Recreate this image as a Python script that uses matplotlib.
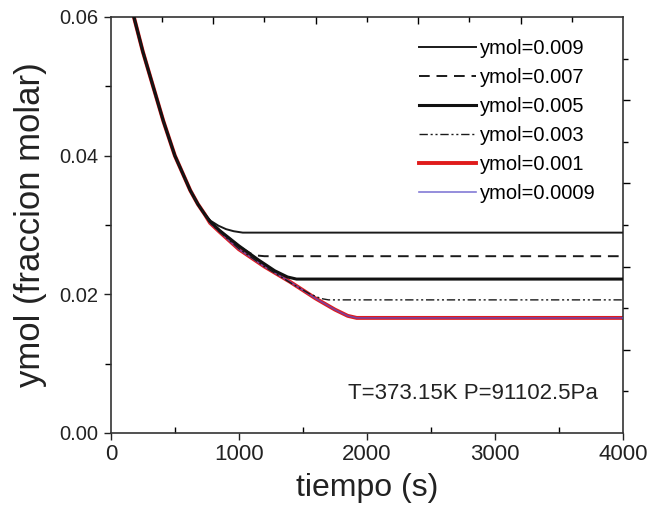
import matplotlib
matplotlib.use('Agg')
import matplotlib.pyplot as plt

plt.rcParams['font.family'] = ['Liberation Sans', 'DejaVu Sans']

# shared descending part (tiempo in s, ymol)
t_start = [140, 180, 250, 330, 410, 500, 560, 620, 680, 735]
y_start = [0.0635, 0.060, 0.055, 0.050, 0.045, 0.040, 0.0375, 0.0350, 0.0330, 0.0315]

t_009 = t_start + [780, 840, 900, 960, 1030, 4000]
y_009 = y_start + [0.0306, 0.0299, 0.0294, 0.0291, 0.0289, 0.0289]

t_007 = t_start + [775, 850, 950, 1030, 1090, 1140, 1200, 4000]
y_007 = y_start + [0.0304, 0.0292, 0.0277, 0.0266, 0.0259, 0.0256, 0.0255, 0.0255]

t_005 = t_start + [775, 850, 1000, 1150, 1280, 1380, 1450, 4000]
y_005 = y_start + [0.0305, 0.0292, 0.0270, 0.0250, 0.0234, 0.0225, 0.0222, 0.0222]

t_003 = t_start + [775, 850, 1000, 1200, 1400, 1550, 1640, 1700, 4000]
y_003 = y_start + [0.0303, 0.0290, 0.0266, 0.0240, 0.0217, 0.0201, 0.0194, 0.0192, 0.0192]

t_001 = t_start + [775, 850, 1000, 1200, 1400, 1600, 1750, 1850, 1920, 4000]
y_001 = y_start + [0.0303, 0.0290, 0.0265, 0.0240, 0.0218, 0.0194, 0.0178, 0.0169, 0.0166, 0.0166]

t_0009 = t_001
y_0009 = y_001

labels = ['ymol=0.009', 'ymol=0.007', 'ymol=0.005', 'ymol=0.003', 'ymol=0.001', 'ymol=0.0009']

fig = plt.figure(figsize=(6.52, 5.12), dpi=100)
ax = fig.add_axes([0.170, 0.1543, 0.7855, 0.8125])

l1, = ax.plot(t_009, y_009, color='#1a1a1a', lw=1.4, zorder=4)
l2, = ax.plot(t_007, y_007, color='#1a1a1a', lw=1.4, ls=(0, (5.5, 3.5)), zorder=4)
l3, = ax.plot(t_005, y_005, color='#111111', lw=2.2, zorder=4)
l4, = ax.plot(t_003, y_003, color='#1a1a1a', lw=1.0, ls=(0, (6, 2, 1.5, 2, 1.5, 2)), zorder=4)
l5, = ax.plot(t_001, y_001, color='#e01b1b', lw=2.8, zorder=2)
l6, = ax.plot(t_0009, y_0009, color='#5a4fc8', lw=1.2, alpha=0.75, zorder=3)

ax.set_xlim(0, 4000)
ax.set_ylim(0, 0.06)
ax.set_xticks([0, 1000, 2000, 3000, 4000])
ax.set_xticks([500, 1500, 2500, 3500], minor=True)
ax.set_yticks([0, 0.02, 0.04, 0.06])
ax.set_yticklabels(['0.00', '0.02', '0.04', '0.06'])
ax.set_yticks([0.01, 0.03, 0.05], minor=True)

ax.tick_params(axis='x', which='major', direction='out', length=5, width=1, labelsize=16, pad=3, colors='#222222')
ax.tick_params(axis='x', which='minor', direction='in', length=4, width=1)
ax.tick_params(axis='y', which='major', direction='out', length=5, width=1, labelsize=14.5, pad=4, colors='#222222')
ax.tick_params(axis='y', which='minor', direction='out', length=4, width=1)

for s in ax.spines.values():
    s.set_linewidth(1.2)
    s.set_color('#333333')

# top and right axes have their own tick spacing
ax_top = ax.twiny()
ax_top.set_xlim(0, 4000)
ax_top.set_xticks([800, 1600, 2400, 3200])
ax_top.set_xticks([400, 1200, 2000, 2800, 3600], minor=True)
ax_top.tick_params(axis='x', which='both', direction='in', labeltop=False, width=1)
ax_top.tick_params(axis='x', which='major', length=5)
ax_top.tick_params(axis='x', which='minor', length=3.5)

ax_right = ax.twinx()
ax_right.set_ylim(0, 0.06)
ax_right.set_yticks([0.012, 0.024, 0.036, 0.048])
ax_right.set_yticks([0.006, 0.018, 0.030, 0.042, 0.054], minor=True)
ax_right.tick_params(axis='y', which='both', direction='out', labelright=False, width=1)
ax_right.tick_params(axis='y', which='major', length=5)
ax_right.tick_params(axis='y', which='minor', length=3.5)
for a in (ax_top, ax_right):
    for s in a.spines.values():
        s.set_visible(False)

ax.set_xlabel('tiempo (s)', fontsize=23, labelpad=6, color='#222222')
ax.set_ylabel('ymol (fraccion molar)', fontsize=25, labelpad=9, color='#222222')

ax.legend([l1, l2, l3, l4, l5, l6], labels, loc='upper right',
          bbox_to_anchor=(0.946, 0.948), frameon=False, fontsize=14.5,
          handlelength=2.8, handletextpad=0.2, labelspacing=0.5,
          borderaxespad=0, borderpad=0)

ax.text(0.951, 0.094, 'T=373.15K P=91102.5Pa', transform=ax.transAxes,
        ha='right', va='center', fontsize=16, color='#222222')

fig.savefig('out.png', dpi=100)
